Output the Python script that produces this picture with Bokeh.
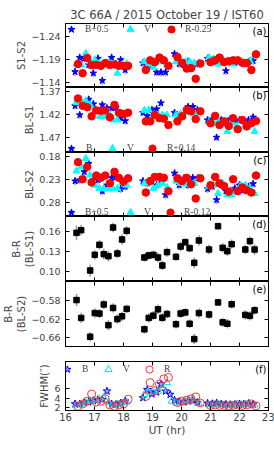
import numpy as np
from bokeh.plotting import figure
from bokeh.layouts import column
from bokeh.models import (Range1d, FixedTicker, CustomJSTickFormatter, LinearAxis, Grid,
                          Legend, LegendItem, Label, Title, CustomLabelingPolicy)
from bokeh.embed import file_html
from bokeh.resources import INLINE

nan = float("nan")

# ---------------- data ----------------
T = [16.38, 16.54, 16.70, 16.85, 17.01, 17.17, 17.32, 17.48, 17.64, 17.79, 17.95, 18.11,
     18.72, 18.87, 19.03, 19.19, 19.34, 19.50, 19.66, 19.81, 19.97, 20.13, 20.28, 20.44, 20.60,
     20.95, 21.11, 21.26, 21.42, 21.58, 21.73, 21.89, 22.05, 22.20, 22.36, 22.52]
tB = [16.33, 16.49, 16.65, 16.80, 16.96, 17.12, 17.27, 17.43, 17.59, 17.74, 17.90, 18.06,
      18.67, 18.82, 18.98, 19.14, 19.29, 19.45, 19.61, 19.76, 19.92, 20.08, 20.23, 20.39, 20.55,
      20.90, 21.06, 21.21, 21.37, 21.53, 21.68, 21.84, 22.00, 22.15, 22.31, 22.47]
tV = T
tR = [16.43, 16.59, 16.75, 16.90, 17.06, 17.22, 17.37, 17.53, 17.69, 17.84, 18.00, 18.16,
      18.77, 18.92, 19.08, 19.24, 19.39, 19.55, 19.71, 19.86, 20.02, 20.18, 20.33, 20.49, 20.65,
      21.00, 21.16, 21.31, 21.47, 21.63, 21.78, 21.94, 22.10, 22.25, 22.41, 22.57]

# (a) S1-S2 : B+0.5, V, R-0.25
a_B = [-1.163, -1.194, -1.192, -1.178, -1.160, -1.192, -1.144, -1.180, -1.194, -1.180, -1.189, -1.167,
       -1.182, -1.178, -1.176, -1.162, -1.162, -1.162, nan, -1.202, -1.180, -1.178, -1.185, -1.176, -1.180,
       -1.192, -1.189, -1.185, -1.189, -1.165, -1.185, -1.183, -1.185, -1.180, -1.185, -1.187]
a_V = [-1.180, -1.178, -1.203, -1.185, -1.189, -1.182, -1.180, -1.183, -1.180, -1.160, -1.178, -1.181,
       -1.185, -1.180, -1.173, -1.185, -1.185, -1.178, nan, -1.185, -1.183, -1.185, -1.185, -1.182, -1.183,
       -1.194, -1.191, -1.180, -1.191, -1.187, -1.180, -1.185, -1.183, -1.183, -1.187, -1.198]
a_R = [-1.180, -1.160, -1.193, -1.178, -1.178, -1.176, -1.182, -1.178, -1.179, -1.176, -1.176, -1.176,
       -1.167, -1.188, -1.184, -1.194, -1.188, -1.176, nan, -1.195, -1.183, -1.170, -1.171, -1.148, -1.181,
       -1.184, -1.188, -1.194, -1.184, -1.186, -1.188, -1.188, -1.183, -1.182, -1.167, -1.201]
a_err = [0.009, 0.003, 0.005]

# (b) BL-S1 : B, V, R+0.14
b_B = [1.401, 1.421, 1.395, 1.387, 1.397, 1.411, 1.399, 1.406, 1.406, 1.405, 1.428, 1.434,
       1.416, 1.423, 1.410, 1.408, 1.395, 1.424, nan, 1.416, 1.423, 1.421, 1.403, 1.403, 1.410,
       1.432, 1.430, 1.470, 1.432, 1.439, 1.430, 1.435, 1.432, 1.435, 1.432, 1.426]
b_V = [1.394, 1.392, 1.390, 1.399, 1.413, 1.424, 1.424, 1.417, 1.432, 1.432, 1.417, 1.416,
       1.411, 1.410, 1.421, 1.421, 1.421, 1.421, nan, 1.421, 1.419, 1.416, 1.416, 1.417, 1.414,
       1.437, 1.439, 1.435, 1.435, 1.457, 1.435, 1.446, 1.435, 1.443, 1.439, 1.457]
b_R = [1.385, 1.401, 1.404, 1.424, 1.411, 1.412, 1.411, 1.426, 1.399, 1.416, 1.419, 1.416,
       1.435, 1.435, 1.421, 1.428, 1.429, 1.443, nan, 1.435, 1.424, 1.410, 1.413, 1.430, 1.413,
       1.439, 1.423, 1.443, 1.435, 1.445, 1.428, 1.452, 1.432, 1.446, 1.439, 1.434]
b_err = [0.008, 0.003, 0.005]

# (c) BL-S2 : B+0.5, V, R-0.12
c_B = [0.233, 0.231, 0.213, 0.195, 0.231, 0.231, 0.255, 0.242, 0.226, 0.224, 0.250, 0.245,
       0.233, 0.238, 0.234, 0.242, 0.231, 0.263, nan, 0.216, 0.242, 0.227, 0.242, 0.226, 0.227,
       0.250, 0.245, 0.274, 0.242, 0.255, 0.255, 0.249, 0.242, 0.253, 0.245, 0.239]
c_V = [0.211, 0.202, 0.184, 0.220, 0.242, 0.249, 0.250, 0.250, 0.250, 0.249, 0.236, 0.242,
       0.238, 0.236, 0.249, 0.242, 0.238, 0.247, nan, 0.233, 0.238, 0.240, 0.240, 0.238, 0.226,
       0.245, 0.242, 0.260, 0.238, 0.263, 0.263, 0.255, 0.242, 0.242, 0.249, 0.260]
c_R = [0.192, 0.229, 0.202, 0.236, 0.221, 0.226, 0.221, 0.238, 0.213, 0.226, 0.234, 0.227,
       0.258, 0.233, 0.224, 0.224, 0.226, 0.255, nan, 0.227, 0.233, 0.226, 0.240, 0.271, 0.227,
       0.242, 0.224, 0.238, 0.244, 0.256, 0.229, 0.255, 0.247, 0.253, 0.258, 0.221]
c_err = [0.009, 0.003, 0.005]

# (d) B-R (BL-S1)
d_BR = [0.158, 0.162, nan, 0.1015, 0.125, 0.140, 0.126, 0.123, 0.166, 0.127, 0.148, 0.161,
        0.121, 0.124, 0.125, 0.121, 0.109, 0.129, nan, 0.122, 0.1375, 0.144, 0.135, 0.113, 0.1465,
        0.133, nan, 0.168, 0.1355, 0.1305, 0.141, nan, nan, 0.133, 0.1455, 0.133]
d_err = [0.011, 0.008, nan, 0.009, 0.007, 0.007, 0.008, 0.008, 0.007, 0.007, 0.008, 0.007,
         0.006, 0.006, 0.006, 0.007, 0.007, 0.007, nan, 0.006, 0.007, 0.006, 0.006, 0.008, 0.008,
         0.007, nan, 0.005, 0.007, 0.007, 0.007, nan, nan, 0.007, 0.007, 0.008]

# (e) B-R (BL-S2)
e_BR = [-0.579, -0.6175, nan, -0.658, -0.607, -0.608, -0.5885, -0.633, -0.596, -0.620, -0.614, -0.598,
        -0.642, -0.6175, -0.6125, -0.599, -0.617, -0.609, nan, -0.631, -0.608, -0.6055, -0.630, -0.663, -0.607,
        -0.610, nan, -0.584, -0.627, -0.630, -0.588, nan, nan, -0.611, -0.613, -0.601]
e_err = [0.013, 0.011, nan, 0.010, 0.010, 0.010, 0.010, 0.011, 0.010, 0.010, 0.010, 0.009,
         0.009, 0.010, 0.010, 0.010, 0.010, 0.009, nan, 0.009, 0.009, 0.009, 0.009, 0.011, 0.010,
         0.009, nan, 0.008, 0.010, 0.010, 0.009, nan, nan, 0.010, 0.010, 0.009]

# (f) FWHM
f_B = [2.8, 2.8, 3.1, 3.2, 3.5, 3.7, 3.75, 5.5, 2.8, 2.7, 3.0, 3.4,
       4.1, 5.8, 4.9, 5.3, 7.0, 5.5, 4.8, 3.6, 3.3, 3.2, 3.4, 3.5, 3.1,
       2.95, 2.85, 3.0, 2.8, 2.75, 2.65, 2.7, 2.8, 2.75, 2.9, 2.75]
f_V = [2.6, 2.8, 3.1, 3.4, 3.6, 3.8, 4.2, 3.1, 2.6, 2.8, 3.0, 3.2,
       4.8, 5.3, 5.3, 5.5, 6.3, 7.3, 3.4, 3.0, 3.2, 3.3, 3.5, 3.3, 2.9,
       2.6, 2.7, 2.8, 2.6, 2.5, 2.6, 2.7, 2.7, 2.8, 2.9, 2.6]
f_R = [2.3, 2.8, 3.4, 4.9, 3.2, 3.4, 3.9, 2.6, 2.3, 2.6, 2.8, 3.8,
       4.4, 7.3, 5.6, 7.0, 8.1, 8.4, nan, 3.1, 3.4, 3.6, 3.9, 4.3, 3.0,
       2.5, 2.6, 2.5, 2.5, 2.4, 2.5, 2.6, 2.5, 2.6, 2.8, 2.4]

XTICKS = [16, 17, 18, 19, 20, 21, 22, 23]

# ---------------- layout helpers ----------------
W = 274
LB = 55
RB = 6
FONT = "DejaVu Sans"
SERIF = "Liberation Serif"
XR = Range1d(16, 23)


def fmt(d):
    return CustomJSTickFormatter(code="return tick.toFixed(%d).replace('-', '\\u2212');" % d)


def no_labels():
    return CustomLabelingPolicy(code="for (const i of indices) { indices.unset(i) }\nreturn indices")


def panel(h, y0, y1, yticks, dec, ylabel, top=0, bottom=0, xlabels=False):
    p = figure(width=W, height=h, x_range=XR, y_range=Range1d(y0, y1),
               output_backend="svg", toolbar_location=None,
               x_axis_type=None, y_axis_type=None,
               min_border_left=LB, min_border_right=RB,
               min_border_top=top, min_border_bottom=bottom)
    for g in p.select(type=Grid):
        g.visible = False
    p.outline_line_color = "black"
    p.outline_line_alpha = 1
    p.outline_line_width = 1
    p.background_fill_color = "white"
    p.border_fill_color = "white"
    for loc in ("left", "right"):
        show = loc == "left"
        ax = LinearAxis(ticker=FixedTicker(ticks=yticks), formatter=fmt(dec),
                        major_tick_in=4, major_tick_out=0, minor_tick_line_color=None,
                        axis_line_color="black", major_tick_line_color="black",
                        major_label_text_font=FONT,
                        major_label_text_font_size="9.5px" if show else "0px",
                        major_label_standoff=5 if show else 0)
        if show:
            ax.axis_label = ylabel
            ax.axis_label_text_font = FONT
            ax.axis_label_text_font_size = "10px"
            ax.axis_label_text_font_style = "normal"
            ax.axis_label_standoff = 1
        else:
            ax.major_label_policy = no_labels()
        p.add_layout(ax, loc)
    for loc in ("above", "below"):
        show = xlabels and loc == "below"
        ax = LinearAxis(ticker=FixedTicker(ticks=XTICKS), formatter=fmt(0),
                        major_tick_in=4, major_tick_out=0, minor_tick_line_color=None,
                        axis_line_color="black", major_tick_line_color="black",
                        major_label_text_font=FONT,
                        major_label_text_font_size="10px" if show else "0px",
                        major_label_standoff=2 if show else 0)
        if show:
            ax.axis_label = "UT (hr)"
            ax.axis_label_text_font = FONT
            ax.axis_label_text_font_size = "10.5px"
            ax.axis_label_text_font_style = "normal"
            ax.axis_label_standoff = 0
        else:
            ax.major_label_policy = no_labels()
        p.add_layout(ax, loc)
    return p


def tag(p, txt, y1):
    p.add_layout(Label(x=23, y=y1, x_units="data", y_units="data", x_offset=-2, y_offset=-2,
                       text=txt, text_align="right", text_baseline="top", anchor="top_right",
                       text_font=FONT, text_font_size="10px", text_color="black"))


def errbars(p, x, y, e, color, alpha, width=1.5):
    y = np.asarray(y, dtype=float)
    e = np.asarray(e, dtype=float) if np.ndim(e) else e
    p.segment(x0=x, x1=x, y0=y - e, y1=y + e, line_color=color,
              line_alpha=alpha, line_width=width)


def leg1(p, r, text, x, y, ls, g=18):
    # legend marker size is 0.4 * min(glyph_width, glyph_height)
    p.add_layout(Legend(items=[LegendItem(label=text, renderers=[r])],
                        location=(x, y), margin=0, padding=0, spacing=0,
                        glyph_width=g, glyph_height=g, label_standoff=ls,
                        label_width=1, label_height=10, border_line_color=None,
                        background_fill_alpha=0, label_text_font=SERIF,
                        label_text_font_size="9.5px"))


def pol_panel(h, y0, y1, yticks, yl, B, V, R, err, labels, legy, legx, ls, tg, top=0):
    p = panel(h, y0, y1, yticks, 2, yl, top=top)
    errbars(p, tB, B, err[0], "#4444ff", 0.55)
    errbars(p, tV, V, err[1], "#00e0e0", 0.5)
    errbars(p, tR, R, err[2], "#ff4444", 0.5)
    rB = p.scatter(tB, B, marker="star", size=7, color="#0000ff")
    rV = p.scatter(tV, V, marker="triangle", size=7, color="#00ffff")
    rR = p.scatter(tR, R, marker="circle", size=7.5, color="#ff0000")
    for r, lab, x in zip((rB, rV, rR), labels, legx):
        leg1(p, r, lab, x, legy, ls)
    tag(p, tg, y1)
    return p


# (a)  frame 64 px
pa = pol_panel(87, -1.129, -1.268, [-1.24, -1.19, -1.14], "S1-S2",
               a_B, a_V, a_R, a_err, ["B+0.5", "V", "R-0.25"], 49, (-3, 56, 97), 5, "(a)", top=23)
pa.add_layout(Title(text="3C 66A / 2015 October 19 / IST60", align="center",
                    text_font=FONT, text_font_size="11.5px", text_font_style="normal",
                    standoff=3), "above")
# (b)  frame 65 px
pb = pol_panel(65, 1.503, 1.361, [1.37, 1.42, 1.47], "BL-S1",
               b_B, b_V, b_R, b_err, ["B", "V", "R+0.14"], -5, (-3, 38, 78), 6, "(b)")
# (c)  frame 64 px
pc = pol_panel(64, 0.310, 0.171, [0.18, 0.23, 0.28], "BL-S2",
               c_B, c_V, c_R, c_err, ["B+0.5", "V", "R-0.12"], -5, (-3, 56, 96), 5, "(c)")

# (d)
pd_ = panel(65, 0.085, 0.1825, [0.10, 0.13, 0.16], 2, "B-R\n(BL-S1)")
errbars(pd_, T, d_BR, d_err, "#999999", 1.0)
pd_.scatter(T, d_BR, marker="square", size=5.5, color="black")
tag(pd_, "(d)", 0.1825)

# (e)
pe = panel(80, -0.679, -0.539, [-0.66, -0.62, -0.58], 2, "B-R\n(BL-S2)", bottom=15)
errbars(pe, T, e_BR, e_err, "#999999", 1.0)
pe.scatter(T, e_BR, marker="square", size=5.5, color="black")
tag(pe, "(e)", -0.539)

# (f)  frame 49 px
pf = panel(78, 1.43, 11.75, [2, 4, 6], 0, "FWHM(\u2033)", bottom=29, xlabels=True)
fB = pf.scatter(tB, f_B, marker="star", size=8, line_color="#0000ff",
                fill_color="#0000ff", fill_alpha=0.35)
fV = pf.scatter(tV, f_V, marker="triangle", size=7, line_color="#00e5e5",
                fill_color=None)
fR = pf.scatter(tR, f_R, marker="circle", size=8, line_color="#ff3333",
                fill_color=None)
for r, lab, x in zip((fB, fV, fR), ("B", "V", "R"), (-7, 34, 75)):
    leg1(pf, r, lab, x, 32, 6)
tag(pf, "(f)", 11.75)

layout = column(pa, pb, pc, pd_, pe, pf, spacing=0)
open("out.html", "w").write(file_html(layout, INLINE))
